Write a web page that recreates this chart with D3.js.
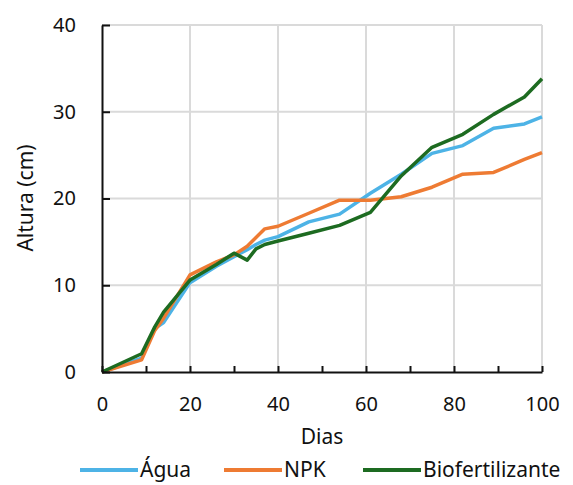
<!DOCTYPE html>
<html>
<head>
  <meta charset="utf-8">
  <title>Altura x Dias</title>
  <script src="https://cdn.jsdelivr.net/npm/d3@7"></script>
  <style>
    body { margin: 0; background: #fff; }
    text { font-family: "Noto Sans", sans-serif; fill: #111; }
  </style>
</head>
<body>
  <svg id="chart" width="573" height="485"></svg>
  <script>
    // dias de medição (eixo x)
    var dias = [0, 9, 12, 14, 20, 26, 30, 33, 35, 37, 40, 47, 54, 61, 68, 75, 82, 89, 96, 100];
    var agua = [0, 1.6, 5.0, 5.7, 10.3, 12.2, 13.3, 14.1, 14.7, 15.2, 15.6, 17.3, 18.2, 20.6, 22.8, 25.2, 26.1, 28.1, 28.6, 29.4];
    var npk = [0, 1.4, 4.8, 6.2, 11.2, 12.7, 13.5, 14.5, 15.5, 16.5, 16.8, 18.3, 19.8, 19.8, 20.2, 21.3, 22.8, 23.0, 24.5, 25.3];
    var bio = [0, 2.1, 5.2, 6.9, 10.6, 12.4, 13.7, 12.9, 14.2, 14.7, 15.1, 16.0, 16.9, 18.4, 22.6, 25.9, 27.4, 29.7, 31.7, 33.8];
    var xTicks = [0, 20, 40, 60, 80, 100];
    var yTicks = [0, 10, 20, 30, 40];

    var series = [
      { nome: "Água", valores: agua, cor: "#4db3e6" },
      { nome: "NPK", valores: npk, cor: "#ee7b33" },
      { nome: "Biofertilizante", valores: bio, cor: "#1d6b21" }
    ];

    var svg = d3.select("#chart");
    var x = d3.scaleLinear().domain([0, 100]).range([102, 542]);
    var y = d3.scaleLinear().domain([0, 40]).range([372, 25]);

    // grade
    svg.append("g").selectAll("line").data(xTicks.slice(1)).enter().append("line")
      .attr("x1", x).attr("x2", x).attr("y1", y(0)).attr("y2", y(40))
      .attr("stroke", "#dadada").attr("stroke-width", 2);
    svg.append("g").selectAll("line").data(yTicks.slice(1)).enter().append("line")
      .attr("x1", x(0)).attr("x2", x(100)).attr("y1", y).attr("y2", y)
      .attr("stroke", "#dadada").attr("stroke-width", 2);

    // linhas
    var line = d3.line()
      .x(function(d, i) { return x(dias[i]); })
      .y(function(d) { return y(d); });
    svg.append("g").selectAll("path").data(series).enter().append("path")
      .attr("d", function(s) { return line(s.valores); })
      .attr("fill", "none")
      .attr("stroke", function(s) { return s.cor; })
      .attr("stroke-width", 3.5)
      .attr("stroke-linejoin", "round");

    // eixos
    var xAxis = svg.append("g").attr("transform", "translate(0," + y(0) + ")")
      .call(d3.axisBottom(x).tickValues(d3.range(0, 101, 10)).tickSizeInner(-6).tickSizeOuter(0).tickPadding(25)
        .tickFormat(function(d) { return d % 20 === 0 ? d : ""; }));
    var yAxis = svg.append("g").attr("transform", "translate(" + x(0) + ",0)")
      .call(d3.axisLeft(y).tickValues(yTicks).tickSizeInner(-8).tickSizeOuter(0).tickPadding(26));
    [xAxis, yAxis].forEach(function(a) {
      a.selectAll("path, line").attr("stroke", "#111").attr("stroke-width", 2);
      a.selectAll("text").style("font-size", "20px").attr("fill", "#111")
        .style("font-family", "'Noto Sans', sans-serif");
    });
    xAxis.selectAll("text").attr("dy", "0.71em");

    // títulos
    svg.append("text").attr("x", 322).attr("y", 444).attr("text-anchor", "middle")
      .style("font-size", "21px").text("Dias");
    svg.append("text").attr("transform", "translate(33,198) rotate(-90)")
      .attr("text-anchor", "middle").style("font-size", "21px").text("Altura (cm)");

    // legenda
    var legX = [80, 224, 363];
    var leg = svg.append("g").selectAll("g").data(series).enter().append("g")
      .attr("transform", function(s, i) { return "translate(" + legX[i] + ",470)"; });
    leg.append("line").attr("x1", 0).attr("x2", 58)
      .attr("stroke", function(s) { return s.cor; }).attr("stroke-width", 4);
    leg.append("text").attr("x", 60).attr("y", 7).style("font-size", "21px")
      .text(function(s) { return s.nome; });
  </script>
</body>
</html>
